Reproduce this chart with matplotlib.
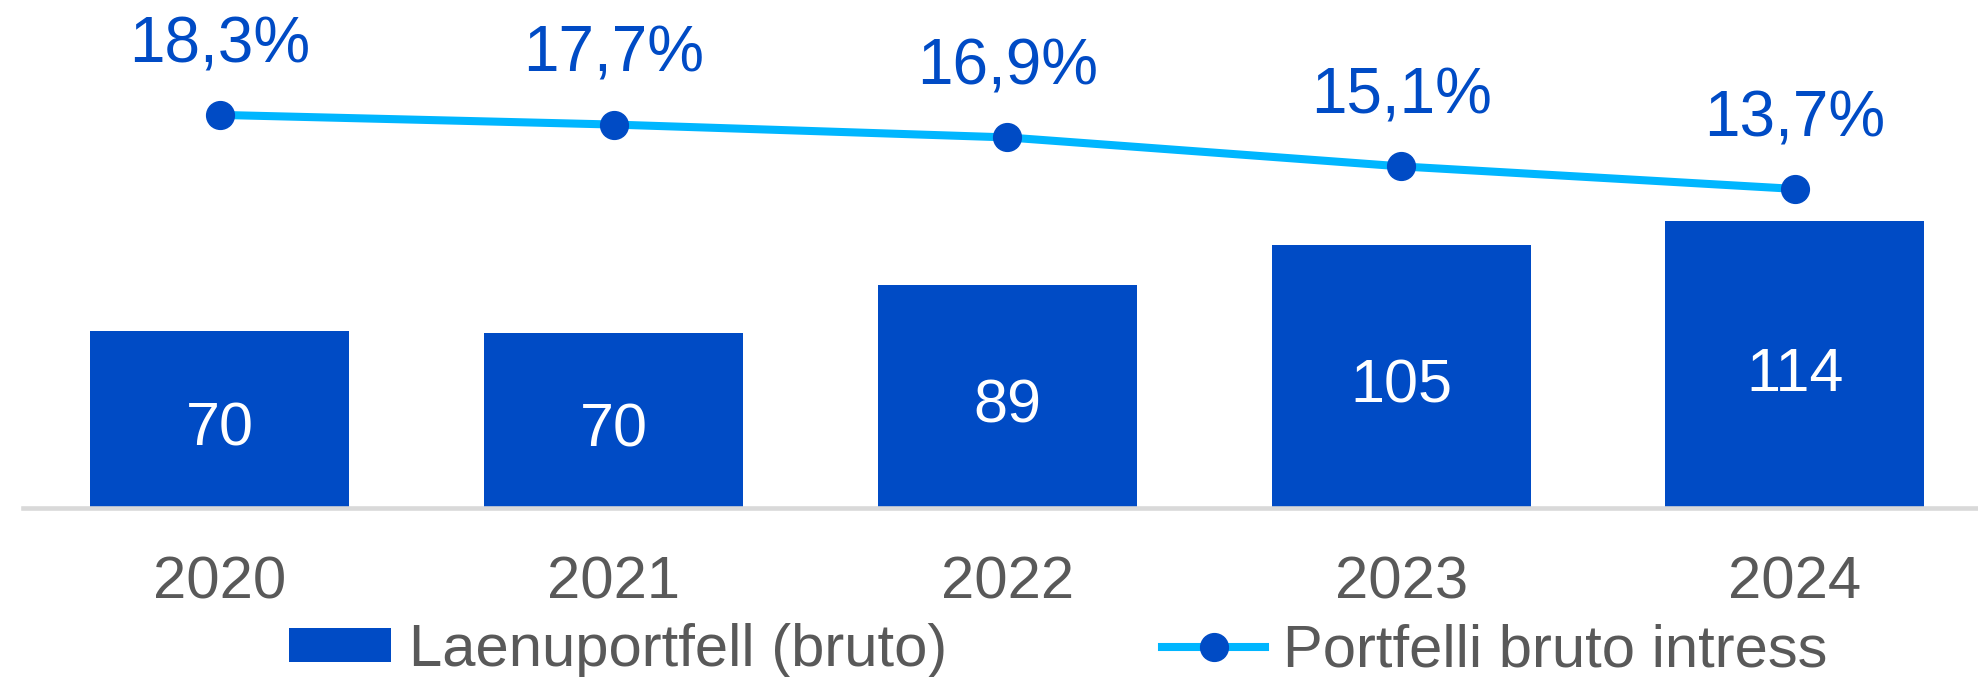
import numpy as np
import matplotlib
matplotlib.use("Agg")
import matplotlib.pyplot as plt
from matplotlib.lines import Line2D
from matplotlib.patches import Patch

# Data
years = ["2020", "2021", "2022", "2023", "2024"]
portfolio = [70.4, 69.6, 88.6, 104.6, 114.0]      # Laenuportfell (bruto)
interest = [18.3, 17.7, 16.9, 15.1, 13.7]         # Portfelli bruto intress, %

bar_color = "#004BC5"
line_color = "#00B6FF"
text_gray = "#595959"

plt.rcParams["font.family"] = ["Liberation Sans", "DejaVu Sans"]

fig = plt.figure(figsize=(19.78, 6.77), dpi=100)
W, H = 1978, 677
ax = fig.add_axes([23 / W, 169 / H, (W - 23) / W, 508 / H])

x = np.arange(len(years))
bars = ax.bar(x, portfolio, width=0.658, color=bar_color, zorder=2)
for xi, v in zip(x, portfolio):
    ax.annotate(f"{v:.0f}", (xi, v / 2), xytext=(0, -19), textcoords="offset points",
                ha="center", va="baseline", color="white", fontsize=44)

ax.set_xlim(-0.5, 4.465)
ax.set_ylim(0, 201.7)
ax.set_xticks(x)
ax.set_xticklabels(years, fontsize=43, color=text_gray)
ax.tick_params(axis="x", length=0, pad=34)
ax.set_yticks([])
for s in ["top", "left", "right"]:
    ax.spines[s].set_visible(False)
ax.spines["bottom"].set_color("#d9d9d9")
ax.spines["bottom"].set_linewidth(3.3)
ax.spines["bottom"].set_zorder(3)

# Interest rate line on a second scale
ax2 = ax.twinx()
ax2.plot(x, interest, color=line_color, lw=5.8, marker="o", markersize=20,
         markerfacecolor=bar_color, markeredgecolor=bar_color, zorder=4)
for xi, v in zip(x, interest):
    ax2.annotate(f"{v:.1f}%".replace(".", ","), (xi, v), xytext=(0, 38),
                 textcoords="offset points", ha="center", va="baseline",
                 color=bar_color, fontsize=46)
ax2.set_ylim(-6.13, 25.44)
ax2.set_yticks([])
for s in ax2.spines.values():
    s.set_visible(False)

handles = [
    Patch(facecolor=bar_color, edgecolor="none", label="Laenuportfell (bruto)"),
    Line2D([], [], color=line_color, lw=5.8, marker="o", markersize=20,
           markerfacecolor=bar_color, markeredgecolor=bar_color,
           label="Portfelli bruto intress"),
]
leg = fig.legend(handles=handles, loc="center", bbox_to_anchor=(1058 / W, 26 / H),
                 ncol=2, frameon=False, fontsize=43, handlelength=1.72,
                 handleheight=0.5, handletextpad=0.3, columnspacing=3.6,
                 borderpad=0)
for t in leg.get_texts():
    t.set_color(text_gray)

fig.savefig("out.png", dpi=100)
